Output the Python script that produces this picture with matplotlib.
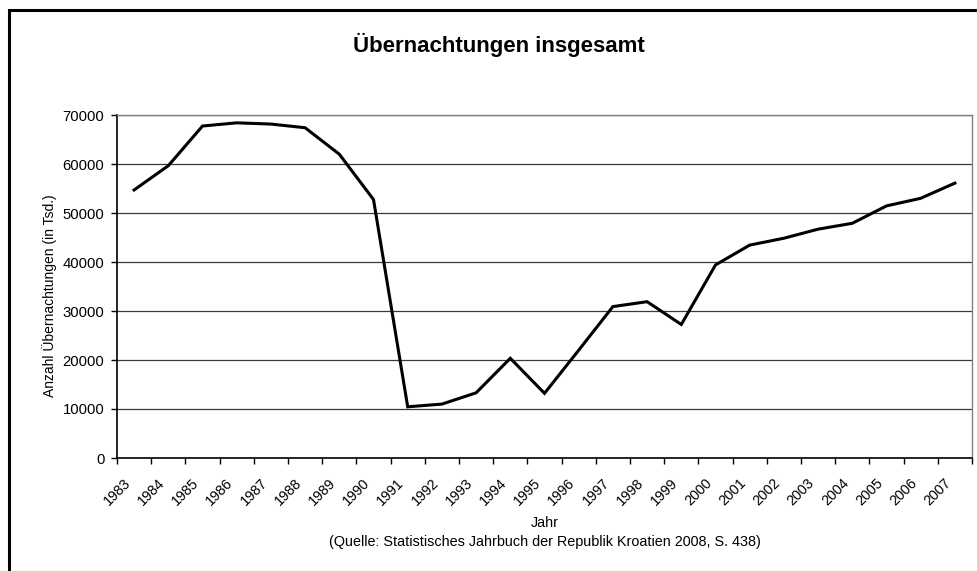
import numpy as np
import matplotlib
matplotlib.use("Agg")
import matplotlib.pyplot as plt
from matplotlib.patches import Rectangle
from matplotlib.transforms import ScaledTranslation

plt.rcParams['font.family'] = ['Liberation Sans', 'DejaVu Sans']

years = [str(y) for y in range(1983, 2008)]
naechte = [54700, 59650, 67750, 68400, 68150, 67400, 62000, 52750, 10450, 11000,
           13300, 20350, 13200, 22000, 30900, 31900, 27250, 39400, 43450, 44850,
           46700, 47900, 51450, 53000, 56100]
yticks = [0, 10000, 20000, 30000, 40000, 50000, 60000, 70000]

W, H = 978, 571
fig = plt.figure(figsize=(W / 100, H / 100), dpi=100)

# Rahmen um das ganze Diagramm (rechts/unten abgeschnitten)
fig.patches.append(Rectangle((9 / W, -0.05), 1.1, 1 - 10 / H + 0.05,
                             transform=fig.transFigure, fill=False,
                             edgecolor='black', linewidth=2.2))

ax = fig.add_axes([117 / W, 1 - 458 / H, (972 - 117) / W, (458 - 115) / H])

x = np.arange(len(years))
ax.plot(x, naechte, color='black', linewidth=2.2, solid_joinstyle='miter', zorder=3)

ax.set_xlim(-0.5, len(years) - 0.5)
ax.set_ylim(0, 70000)
ax.set_yticks(yticks)
ax.set_yticklabels([str(v) for v in yticks], fontsize=10.7)

ax.set_xticks(np.arange(len(years) + 1) - 0.5)
ax.set_xticklabels(years + [''], rotation=45, ha='center', va='top', fontsize=10.3)
shift = ScaledTranslation(-4 / 100, 0, fig.dpi_scale_trans)
for lab in ax.get_xticklabels():
    lab.set_transform(lab.get_transform() + shift)
ax.tick_params(axis='x', direction='out', length=4, width=1, pad=9)
ax.tick_params(axis='y', direction='out', length=4, width=1, pad=5)

ax.grid(axis='y', color='#3a3a3a', linewidth=0.9)
ax.set_axisbelow(True)
for s in ['top', 'right']:
    ax.spines[s].set_color('#808080')
    ax.spines[s].set_linewidth(1)
for s in ['left', 'bottom']:
    ax.spines[s].set_color('black')
    ax.spines[s].set_linewidth(1.2)

fig.text(50 / W, 1 - 296 / H, 'Anzahl Übernachtungen (in Tsd.)', rotation=90,
         ha='center', va='center', fontsize=10)
fig.text(499 / W, 1 - 45 / H, 'Übernachtungen insgesamt', ha='center', va='center',
         fontsize=16, fontweight='bold')
fig.text(545 / W, 1 - 523 / H, 'Jahr', ha='center', va='center', fontsize=10.4)
fig.text(545 / W, 1 - 542 / H,
         '(Quelle: Statistisches Jahrbuch der Republik Kroatien 2008, S. 438)',
         ha='center', va='center', fontsize=10.4)

fig.savefig('out.png', dpi=100)
